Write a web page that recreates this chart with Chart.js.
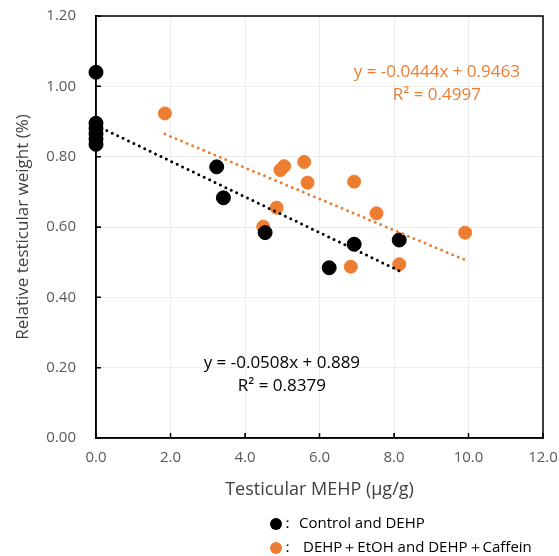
<!DOCTYPE html>
<html>
<head>
<meta charset="utf-8">
<script src="https://cdn.jsdelivr.net/npm/chart.js@4"></script>
<style>
  html, body { margin: 0; padding: 0; background: #fff; }
  #wrap { width: 559px; height: 556px; }
</style>
</head>
<body>
<div id="wrap"><canvas id="chart" width="559" height="556"></canvas></div>
<script>
// Control and DEHP
const ctrlX = [0, 0, 0, 0, 0, 0, 3.24, 3.42, 4.54, 6.26, 6.93, 8.14];
const ctrlY = [1.04, 0.895, 0.88, 0.865, 0.85, 0.835, 0.771, 0.683, 0.584, 0.484, 0.551, 0.563];

// DEHP+EtOH and DEHP+Caffein
const trtX = [1.85, 4.49, 4.85, 4.95, 5.05, 5.59, 5.68, 6.84, 6.93, 7.53, 8.14, 9.91];
const trtY = [0.923, 0.601, 0.655, 0.762, 0.773, 0.785, 0.726, 0.487, 0.729, 0.639, 0.494, 0.584];

// trendline coefficients as printed on the chart
const ctrlFit = { slope: -0.0508, intercept: 0.889 };
const trtFit = { slope: -0.0444, intercept: 0.9463 };

const xTicks = [0, 2, 4, 6, 8, 10, 12];
const yTicks = [0, 0.2, 0.4, 0.6, 0.8, 1.0, 1.2];

const ctrlEq = ['y = -0.0508x + 0.889', 'R² = 0.8379'];
const trtEq = ['y = -0.0444x + 0.9463', 'R² = 0.4997'];
const legendItems = ['Control and DEHP', 'DEHP＋EtOH and DEHP＋Caffein'];

const BLACK = '#000000';
const ORANGE = '#ED7D31';
const FONT = "'Open Sans', 'Liberation Sans', sans-serif";

function toPoints(xs, ys) {
  return xs.map((x, i) => ({ x: x, y: ys[i] }));
}

function fitLine(xs, fit) {
  const lo = Math.min(...xs), hi = Math.max(...xs);
  return [
    { x: lo, y: fit.slope * lo + fit.intercept },
    { x: hi, y: fit.slope * hi + fit.intercept }
  ];
}

const frame = {
  id: 'frame',
  beforeDatasetsDraw(chart) {
    const { ctx, chartArea: a } = chart;
    ctx.save();
    ctx.strokeStyle = '#000';
    ctx.lineWidth = 1.5;
    ctx.strokeRect(a.left, a.top, a.right - a.left, a.bottom - a.top);
    // short inside tick marks like the original
    ctx.beginPath();
    xTicks.forEach(v => {
      const px = chart.scales.x.getPixelForValue(v);
      ctx.moveTo(px, a.bottom);
      ctx.lineTo(px, a.bottom - 5);
    });
    yTicks.forEach(v => {
      const py = chart.scales.y.getPixelForValue(v);
      ctx.moveTo(a.left, py);
      ctx.lineTo(a.left + 5, py);
    });
    ctx.stroke();
    ctx.restore();
  }
};

const notes = {
  id: 'notes',
  afterDraw(chart) {
    const { ctx } = chart;
    const xs = chart.scales.x, ys = chart.scales.y;
    ctx.save();
    ctx.textAlign = 'center';
    ctx.textBaseline = 'middle';
    ctx.font = `17px ${FONT}`;

    ctx.fillStyle = ORANGE;
    ctx.fillText(trtEq[0], xs.getPixelForValue(9.15), ys.getPixelForValue(1.04));
    ctx.fillText(trtEq[1], xs.getPixelForValue(9.15), ys.getPixelForValue(0.975));

    ctx.fillStyle = '#000';
    ctx.fillText(ctrlEq[0], xs.getPixelForValue(4.99), ys.getPixelForValue(0.212));
    ctx.fillText(ctrlEq[1], xs.getPixelForValue(4.99), ys.getPixelForValue(0.147));

    // legend below the axis title
    const colors = [BLACK, ORANGE];
    const rows = [524, 548];
    ctx.textAlign = 'left';
    ctx.font = `15px ${FONT}`;
    legendItems.forEach((label, i) => {
      ctx.fillStyle = colors[i];
      ctx.beginPath();
      ctx.arc(276, rows[i], 6, 0, Math.PI * 2);
      ctx.fill();
      ctx.fillStyle = '#000';
      ctx.fillText('：', 280, rows[i]);
      ctx.fillText(label, i === 0 ? 299 : 303, rows[i]);
    });
    ctx.restore();
  }
};

new Chart(document.getElementById('chart'), {
  type: 'scatter',
  data: {
    datasets: [
      {
        type: 'line',
        data: fitLine(ctrlX, ctrlFit),
        borderColor: BLACK,
        borderWidth: 3,
        borderDash: [0, 6],
        borderCapStyle: 'round',
        pointRadius: 0,
        fill: false
      },
      {
        type: 'line',
        data: fitLine(trtX, trtFit),
        borderColor: ORANGE,
        borderWidth: 3,
        borderDash: [0, 6],
        borderCapStyle: 'round',
        pointRadius: 0,
        fill: false
      },
      {
        label: legendItems[0],
        data: toPoints(ctrlX, ctrlY),
        backgroundColor: BLACK,
        borderColor: BLACK,
        pointRadius: 7,
        clip: false
      },
      {
        label: legendItems[1],
        data: toPoints(trtX, trtY),
        backgroundColor: ORANGE,
        borderColor: ORANGE,
        pointRadius: 6.5,
        clip: false
      }
    ]
  },
  options: {
    responsive: false,
    animation: false,
    layout: { padding: { left: 0, right: 16, top: 16, bottom: 0 } },
    plugins: {
      legend: { display: false },
      tooltip: { enabled: false }
    },
    scales: {
      x: {
        type: 'linear',
        min: 0,
        max: 12,
        afterBuildTicks: s => { s.ticks = xTicks.map(v => ({ value: v })); },
        afterFit: s => { s.height = 118; s.paddingLeft = 0; s.paddingRight = 0; },
        ticks: {
          color: '#595959',
          font: { family: FONT, size: 15 },
          padding: 16,
          callback: v => v.toFixed(1)
        },
        grid: { color: '#ececec', tickColor: '#000', tickLength: -5 },
        border: { color: '#000', width: 1.5 },
        title: {
          display: true,
          text: 'Testicular MEHP (μg/g)',
          color: '#404040',
          font: { family: FONT, size: 18 },
          padding: { top: 0, bottom: 55 }
        }
      },
      y: {
        min: 0,
        max: 1.2,
        afterBuildTicks: s => { s.ticks = yTicks.map(v => ({ value: v })); },
        afterFit: s => { s.width = 96; s.paddingTop = 0; s.paddingBottom = 0; },
        ticks: {
          color: '#595959',
          font: { family: FONT, size: 15 },
          padding: 25,
          callback: v => v.toFixed(2)
        },
        grid: { color: '#ececec', tickColor: '#000', tickLength: -5 },
        border: { color: '#000', width: 1.5 },
        title: {
          display: true,
          text: 'Relative testicular weight (%)',
          color: '#404040',
          font: { family: FONT, size: 17 },
          padding: { top: 13, bottom: 0 }
        }
      }
    }
  },
  plugins: [frame, notes]
});
</script>
</body>
</html>
